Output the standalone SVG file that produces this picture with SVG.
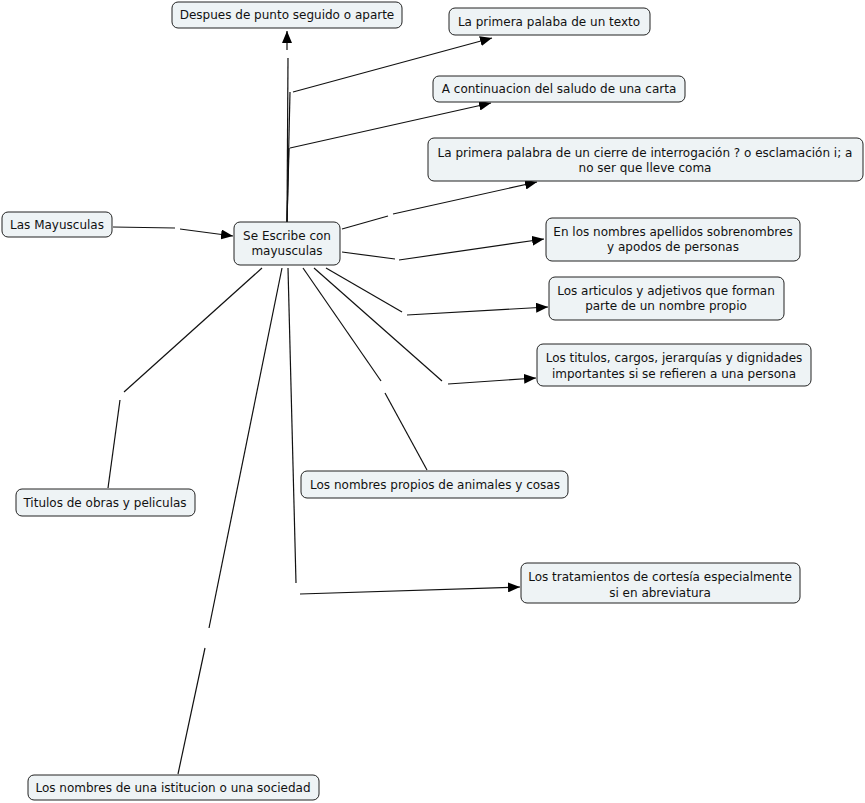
<svg xmlns="http://www.w3.org/2000/svg" width="865" height="803" viewBox="0 0 865 803">
<defs>
<marker id="arr" viewBox="0 0 12 10" refX="12" refY="5" markerWidth="12" markerHeight="10" markerUnits="userSpaceOnUse" orient="auto">
<path d="M0,0 L12,5 L0,10 Z" fill="#000"/>
</marker>
<style>
.n{fill:#eef3f5;stroke:#222;stroke-width:1}
.t{font-family:"DejaVu Sans",Verdana,sans-serif;font-size:12px;fill:#111;text-anchor:middle}
.c line{stroke:#111;stroke-width:1.2;fill:none}
.a{marker-end:url(#arr)}
</style>
</defs>
<rect width="865" height="803" fill="#fff"/>
<g class="c" id="connectors">
<line x1="113" y1="227" x2="175" y2="228"/>
<line class="a" x1="180" y1="229" x2="233" y2="236"/>
<line x1="287" y1="222" x2="288" y2="58"/>
<line class="a" x1="287" y1="50" x2="287" y2="31"/>
<line x1="287" y1="222" x2="290" y2="92"/>
<line class="a" x1="293" y1="92" x2="492" y2="38"/>
<line x1="287" y1="222" x2="289" y2="148"/>
<line class="a" x1="290" y1="148" x2="491" y2="103"/>
<line x1="342" y1="229" x2="388" y2="216"/>
<line class="a" x1="393" y1="214" x2="537" y2="182"/>
<line x1="342" y1="252" x2="395" y2="259"/>
<line class="a" x1="399" y1="260" x2="544" y2="239"/>
<line x1="326" y1="268" x2="402" y2="312"/>
<line class="a" x1="407" y1="315" x2="548" y2="307"/>
<line x1="314" y1="268" x2="442" y2="381"/>
<line class="a" x1="448" y1="384" x2="536" y2="378"/>
<line x1="303" y1="268" x2="381" y2="381"/>
<line x1="385" y1="393" x2="427" y2="470"/>
<line x1="288" y1="268" x2="296" y2="583"/>
<line class="a" x1="300" y1="594" x2="520" y2="587"/>
<line x1="282" y1="268" x2="209" y2="628"/>
<line x1="205" y1="648" x2="178" y2="774"/>
<line x1="262" y1="268" x2="124" y2="392"/>
<line x1="120" y1="400" x2="108" y2="488"/>
</g>
<g id="n1"><rect class="n" x="172" y="2" width="230" height="26" rx="6"/><text class="t" x="287" y="19">Despues de punto seguido o aparte</text></g>
<g id="n2"><rect class="n" x="449" y="8" width="201" height="27" rx="6"/><text class="t" x="549" y="26">La primera palaba de un texto</text></g>
<g id="n3"><rect class="n" x="433" y="76" width="252" height="26" rx="6"/><text class="t" x="559" y="93">A continuacion del saludo de una carta</text></g>
<g id="n4"><rect class="n" x="428" y="138" width="435" height="43" rx="6"/><text class="t" x="645" y="157">La primera palabra de un cierre de interrogación ? o esclamación i; a</text><text class="t" x="645" y="172">no ser que lleve coma</text></g>
<g id="n5"><rect class="n" x="234" y="222" width="106" height="43" rx="6"/><text class="t" x="287" y="240">Se Escribe con</text><text class="t" x="287" y="255">mayusculas</text></g>
<g id="n6"><rect class="n" x="2" y="212" width="110" height="25" rx="6"/><text class="t" x="57" y="229">Las Mayusculas</text></g>
<g id="n7"><rect class="n" x="546" y="218" width="254" height="43" rx="6"/><text class="t" x="673" y="236">En los nombres apellidos sobrenombres</text><text class="t" x="673" y="251">y apodos de personas</text></g>
<g id="n8"><rect class="n" x="549" y="277" width="235" height="43" rx="6"/><text class="t" x="666" y="295">Los articulos y adjetivos que forman</text><text class="t" x="666" y="310">parte de un nombre propio</text></g>
<g id="n9"><rect class="n" x="537" y="344" width="274" height="42" rx="6"/><text class="t" x="674" y="362">Los titulos, cargos, jerarquías y dignidades</text><text class="t" x="674" y="378">importantes si se refieren a una persona</text></g>
<g id="n10"><rect class="n" x="16" y="489" width="179" height="27" rx="6"/><text class="t" x="105" y="507">Titulos de obras y peliculas</text></g>
<g id="n11"><rect class="n" x="301" y="471" width="267" height="27" rx="6"/><text class="t" x="435" y="489">Los nombres propios de animales y cosas</text></g>
<g id="n12"><rect class="n" x="521" y="563" width="279" height="40" rx="6"/><text class="t" x="660" y="581">Los tratamientos de cortesía especialmente</text><text class="t" x="660" y="597">si en abreviatura</text></g>
<g id="n13"><rect class="n" x="28" y="775" width="291" height="25" rx="6"/><text class="t" x="173" y="792">Los nombres de una istitucion o una sociedad</text></g>
</svg>
